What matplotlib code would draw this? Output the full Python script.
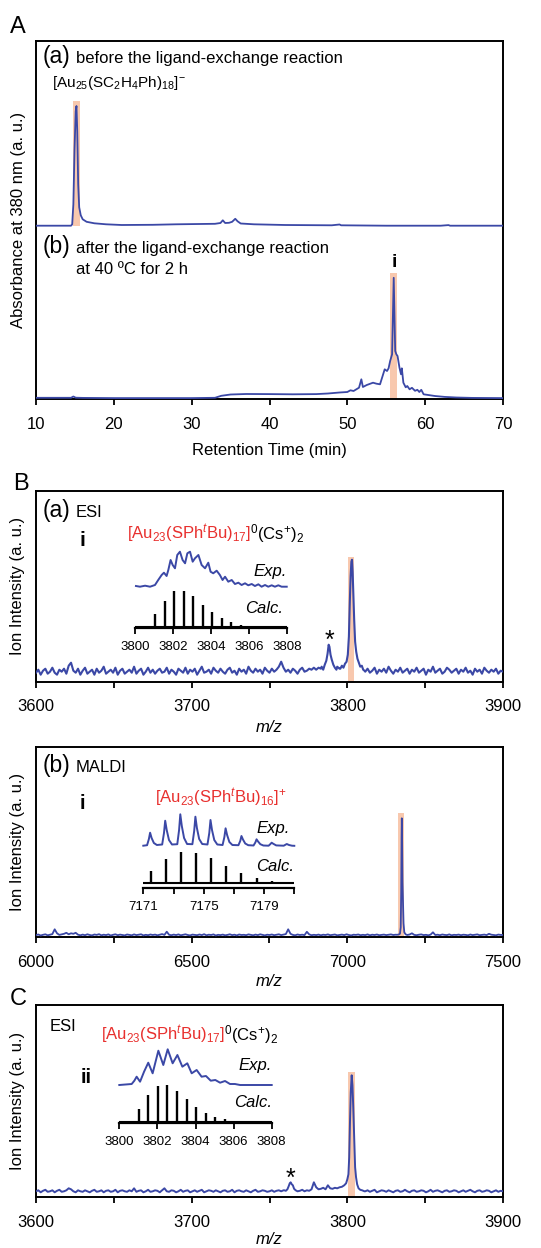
import numpy as np
import matplotlib
matplotlib.use("Agg")
import matplotlib.pyplot as plt
from matplotlib.patches import Rectangle

# ---------------- data ----------------
# Panel A: chromatograms (retention time in min, absorbance a.u.)
a_before_t = [10, 12, 14.5, 14.65, 14.8, 14.95, 15.1, 15.2, 15.3, 15.42, 15.55, 15.75, 16.0, 16.5, 17.5,
              19, 21, 25, 28, 31, 33, 33.7, 34.0, 34.3, 34.8, 35.2, 35.6, 35.9, 36.3, 38, 42, 48, 49,
              49.2, 55, 62, 63, 63.2, 70]
a_before_y = [173.6, 173.6, 173.6, 175, 195, 250, 288, 293.3, 268, 215, 192, 184, 180, 177.5, 176,
              175, 174.3, 174.5, 175, 175.3, 175.5, 176.3, 179, 176.3, 176.5, 177.5, 180.5, 178, 175.8,
              175, 174.3, 174, 174.8, 174, 173.6, 173.6, 174.2, 173.6, 173.6]
a_after_t = [10, 14.5, 14.8, 15.1, 16, 20, 25, 30, 33, 33.8, 35, 37, 40, 43, 46, 47.5, 49, 50, 50.4,
             50.8, 51.5, 51.8, 52.0, 52.5, 53.3, 53.75, 54.2, 54.6, 54.8, 55.1, 55.3, 55.5, 55.75,
             55.96, 56.15, 56.3, 56.45, 56.7, 56.9, 57.0, 57.2, 57.5, 57.7, 58.0, 58.3, 58.7, 59.0,
             59.25, 59.5, 59.8, 60.4, 61.25, 62.5, 64, 66, 70]
a_after_y = [1.5, 1.5, 2.8, 1.6, 1.4, 1.2, 1.2, 1.2, 1.5, 3.5, 4.8, 5.3, 5.2, 5.0, 5.2, 5.8, 6.8, 7.3,
             9, 8.3, 11.6, 20, 12.3, 14.3, 16.6, 15.6, 15, 25, 30, 28.3, 31, 38.3, 45, 121.5, 48.3,
             45, 43.3, 31.6, 25, 31, 16.6, 12, 13.3, 10, 11.5, 8.5, 9.5, 7.3, 9.5, 5, 4.3, 3.3, 2.4,
             1.8, 1.4, 1.2]
a_ticks = [10, 20, 30, 40, 50, 60, 70]
hl_a_before = [14.7, 15.65, 173.5, 298.3]
hl_a_after = [55.5, 56.4, 0, 126]

# Panel B(a): ESI, m/z 3600-3900 sampled every 1.5
ba_start, ba_step = 3600, 1.5
ba_noise = [9, 12, 7, 11, 13, 8, 10, 14, 9, 7, 12, 10, 13, 8, 16, 19, 11, 9, 13, 7,
            11, 14, 8, 10, 12, 7, 13, 9, 11, 15, 8, 10, 12, 9, 14, 7, 11, 13, 8, 10,
            12, 9, 15, 8, 11, 13, 7, 10, 14, 9, 12, 8, 11, 13, 9, 10, 14, 8, 12, 10,
            7, 13, 11, 9, 14, 8, 12, 10, 13, 7, 11, 15, 9, 10, 12, 8, 14, 11, 9, 13,
            10, 8, 12, 14, 9, 11, 7, 13, 10, 12, 8, 15, 11, 9, 13, 10, 12, 8, 14, 11,
            9, 13, 10, 12, 15, 20, 14, 10, 12, 9, 13, 11, 8, 12, 14, 10, 11, 13, 12, 14,
            12, 14, 13, 15, 16, 20, 30, 25, 17, 15, 13, 14, 15, 18, 40, 100, 60, 25, 17, 14,
            12, 10, 13, 9, 11, 14, 8, 12, 10, 13, 9, 15, 11, 8, 12, 10, 14, 9, 11, 13,
            8, 12, 10, 14, 9, 11, 13, 7, 12, 10, 15, 9, 11, 13, 8, 10, 14, 12, 9, 11,
            13, 8, 12, 10, 14, 9, 11, 7, 13, 10, 12, 8, 14, 11, 9, 12, 10, 13, 8, 11, 10]
ba_star_mz = [3783.5, 3784.5, 3785.5, 3786.5, 3787.3, 3788.0, 3788.5, 3789.2, 3790.0, 3791.0, 3792.0, 3793.0]
ba_star_y = [15, 12, 17, 21, 28, 37, 35, 27, 22, 17, 14, 12]
ba_peak_mz = [3795.5, 3796.5, 3797.5, 3798.5, 3799.5, 3800.3, 3801.0, 3801.6, 3802.1, 3802.6, 3803.0,
              3803.4, 3803.9, 3804.4, 3805.0, 3805.7, 3806.5, 3807.4, 3808.3, 3809.3, 3810.2, 3811.0]
ba_peak_y = [13, 16, 14, 18, 20, 27, 45, 80, 105, 120, 122, 110, 86, 62, 40, 30, 23, 19, 15, 16, 12, 11]
ba_ticks = [3600, 3650, 3700, 3750, 3800, 3850, 3900]
ba_labels = ['3600', '', '3700', '', '3800', '', '3900']
hl_ba = [3800.5, 3804.5, 0, 125]
ba_exp_mz = [3800.05, 3800.26, 3800.53, 3800.79, 3801.05, 3801.22, 3801.4, 3801.52, 3801.66, 3801.75,
             3801.87, 3801.98, 3802.1, 3802.22, 3802.36, 3802.5, 3802.63, 3802.75, 3802.89, 3803.03,
             3803.15, 3803.33, 3803.5, 3803.68, 3803.85, 3803.97, 3804.11, 3804.29, 3804.46, 3804.6,
             3804.73, 3804.9, 3805.08, 3805.25, 3805.43, 3805.6, 3805.78, 3805.95, 3806.13, 3806.3,
             3806.48, 3806.65, 3806.83, 3807.0, 3807.18, 3807.35, 3807.53, 3807.7, 3807.97]
ba_exp_y = [42, 41.3, 42.3, 41.3, 43, 48, 53, 55.3, 52, 58, 68, 63, 59.7, 73, 76.3, 68, 64.7, 74.7,
            76.3, 66.3, 69.7, 73, 63, 59.7, 65.3, 56.3, 54.7, 57.3, 53, 48, 51.3, 46.3, 48, 44, 45.3,
            43, 44.7, 42.7, 44, 42, 43.7, 41.3, 43, 41.3, 42.7, 41.3, 42.7, 41.3, 41.3]
ba_calc_mz = [3801.05, 3801.55, 3802.05, 3802.55, 3803.05, 3803.55, 3804.05, 3804.55, 3805.05,
              3805.55, 3806.05, 3806.55]
ba_calc_y = [12.7, 26, 35.3, 36, 31, 22, 14.3, 8.3, 4.3, 2, 1, 0.3]
ba_in_ticks = [3800, 3802, 3804, 3806, 3808]

# Panel B(b): MALDI, m/z 6000-7500 sampled every 7.5
bb_start, bb_step = 6000, 7.5
bb_noise = [2.2, 2.8, 1.8, 2.5, 3.0, 2.0, 2.6, 3.2, 8.0, 4.0, 2.4, 2.9, 3.5, 4.5, 3.0, 4.0, 3.5, 4.5, 2.6, 2.0,
            2.7, 2.1, 3.0, 2.3, 1.9, 2.8, 2.4, 3.1, 2.0, 2.6, 2.2, 2.9, 1.8, 2.5, 3.0, 2.1, 2.7, 2.3, 1.9, 2.8,
            2.4, 2.0, 2.9, 2.2, 2.6, 3.0, 1.9, 2.5, 2.1, 2.8, 2.3, 2.7, 2.0, 2.6, 3.2, 2.4, 5.6, 2.5, 2.1, 2.7,
            2.2, 2.9, 2.0, 2.5, 3.0, 2.3, 1.9, 2.7, 2.4, 2.1, 2.8, 2.2, 3.1, 2.0, 2.6, 2.3, 2.9, 1.8, 2.5, 2.2,
            2.7, 2.0, 2.4, 3.0, 2.2, 2.6, 1.9, 2.8, 2.3, 2.5, 2.1, 2.9, 2.4, 2.0, 2.7, 2.2, 3.0, 2.5, 1.9, 2.6,
            2.3, 2.8, 2.1, 2.5, 3.0, 2.2, 2.7, 3.2, 8.0, 3.5, 2.4, 2.0, 2.8, 2.3, 2.6, 2.2, 5.5, 2.9, 2.1, 2.5,
            2.2, 2.7, 2.0, 2.6, 2.3, 2.9, 2.1, 2.5, 2.8, 2.0, 2.4, 2.7, 2.2, 3.0, 2.3, 1.9, 2.6, 2.4, 2.8, 2.1,
            2.5, 2.2, 2.9, 2.0, 2.6, 2.3, 2.8, 2.1, 2.4, 2.7, 2.2, 2.5, 2.9, 2.3, 2.6, 2.5, 2.5, 2.5, 2.5, 2.3,
            2.8, 4.0, 2.4, 2.1, 2.6, 2.9, 2.2, 2.5, 2.0, 2.7, 5.0, 2.3, 2.6, 2.1, 2.8, 2.4, 2.2, 2.9, 2.0, 2.5,
            2.3, 2.7, 2.1, 2.6, 2.4, 2.0, 2.8, 2.2, 2.5, 2.9, 2.1, 2.4, 2.7, 2.2, 3.5, 2.6, 2.3, 2.0, 2.7, 2.4, 2.3]
bb_peak_mz = [7160, 7165, 7169, 7171.5, 7173, 7174.2, 7175.0, 7176.0, 7177.2, 7178.5, 7180.5, 7183, 7187, 7191]
bb_peak_y = [2.5, 2.8, 3.5, 10, 45, 100, 119, 95, 55, 38, 14, 5, 3, 2.5]
bb_ticks = [6000, 6250, 6500, 6750, 7000, 7250, 7500]
bb_labels = ['6000', '', '6500', '', '7000', '', '7500']
hl_bb = [7163, 7182, 0, 124.3]
bb_exp_mz = [7171.0, 7171.25, 7171.37, 7171.45, 7171.55, 7171.7, 7171.9,
             7172.25, 7172.37, 7172.45, 7172.55, 7172.7, 7172.9,
             7173.25, 7173.37, 7173.45, 7173.55, 7173.7, 7173.9,
             7174.25, 7174.37, 7174.45, 7174.55, 7174.7, 7174.9,
             7175.25, 7175.37, 7175.45, 7175.55, 7175.7, 7175.9,
             7176.25, 7176.37, 7176.45, 7176.55, 7176.7, 7176.9,
             7177.3, 7177.42, 7177.5, 7177.6, 7177.75, 7177.95,
             7178.3, 7178.42, 7178.5, 7178.6, 7178.75, 7178.95,
             7179.3, 7179.42, 7179.5, 7179.6, 7179.8,
             7180.3, 7180.5, 7180.65, 7180.85, 7181.0]
bb_exp_y = [42.3, 42.8, 49, 55.3, 50, 45, 43,
            43.5, 55, 67.3, 58, 48, 43.5,
            43.8, 58, 73.7, 62, 50, 44,
            43.8, 57, 71.3, 60, 49, 44,
            43.5, 55, 68, 58, 48, 43.5,
            43, 51, 59.7, 53, 46, 43,
            42.8, 47, 52, 48.5, 44.5, 42.8,
            42.5, 45.5, 48.7, 46.5, 43.8, 42.5,
            42.3, 44, 45.3, 44.3, 42.6,
            42.3, 44, 43, 42.3, 42.2]
bb_calc_mz = [7171.5, 7172.5, 7173.5, 7174.5, 7175.5, 7176.5, 7177.5, 7178.5, 7179.5, 7180.5]
bb_calc_y = [12.7, 24, 31, 30.7, 25, 17.7, 10.7, 5.7, 2.7, 1]
bb_in_ticks = [7171, 7173, 7175, 7177, 7179, 7181]
bb_in_labels = ['7171', '', '7175', '', '7179', '']

# Panel C: ESI of fraction ii, m/z 3600-3900 sampled every 1.5
c_start, c_step = 3600, 1.5
c_noise = [6, 7, 5, 6.5, 7.5, 5.5, 6, 7, 5, 6.5, 7.5, 5.5, 6, 7, 9, 8, 6, 5, 7, 6,
           5.5, 7, 6, 5, 6.5, 7.5, 5.5, 6, 7, 5, 6.5, 7, 5.5, 6, 7.5, 5, 6.5, 7, 6, 5.5,
           7, 6, 9, 5.5, 6.5, 7, 5, 6, 7.5, 5.5, 6, 7, 6.5, 5, 7, 9, 6, 5.5, 7, 6.5,
           5, 6, 7.5, 5.5, 6.5, 7, 5, 6, 7, 5.5, 6.5, 7.5, 5, 6, 7, 6.5, 5.5, 7, 6, 5,
           6.5, 7, 5.5, 6, 7.5, 5, 6.5, 7, 6, 5.5, 7, 6, 5, 6.5, 7.5, 5.5, 6, 7, 6.5, 5.5,
           6, 7, 5.5, 6.5, 7, 6, 7, 9, 14, 12, 8, 7, 6, 6.5, 7.5, 6, 7, 6.5, 8, 15,
           10, 8, 8.5, 9.5, 8, 12, 9, 8.5, 9.5, 9, 10, 11, 14, 22, 60, 120, 50, 15, 9, 7,
           6.5, 6, 7, 5.5, 6.5, 7.5, 5, 6, 7, 6.5, 5.5, 7, 6, 5, 6.5, 7, 5.5, 6, 7.5, 6,
           5, 6.5, 7, 5.5, 6, 7, 6.5, 5, 6, 7.5, 5.5, 6.5, 7, 6, 5, 6.5, 7, 5.5, 6, 7,
           6.5, 5, 6, 7, 5.5, 6.5, 7.5, 6, 5, 6.5, 7, 5.5, 6, 7, 6.5, 5, 6, 7, 5.5, 6.5, 6]
c_star_mz = [3759.5, 3760.5, 3761.5, 3762.3, 3763.0, 3763.6, 3764.3, 3765.0, 3765.8, 3766.8]
c_star_y = [7, 6.5, 8, 11, 14, 15, 13, 12, 8.5, 7]
c_peak_mz = [3795.0, 3796.5, 3798.0, 3799.2, 3800.0, 3800.7, 3801.2, 3801.7, 3802.2, 3802.8, 3803.3,
             3803.8, 3804.4, 3805.0, 3805.6, 3806.3, 3807.2, 3808.3, 3809.5, 3811.0]
c_peak_y = [10, 10.5, 12, 14, 18, 23, 40, 75, 105, 122, 112, 90, 60, 30, 20, 13, 9, 7.5, 7, 6]
hl_c = [3800.2, 3804.7, 0, 125.6]
c_exp_mz = [3800.0, 3800.65, 3800.79, 3800.91, 3801.09, 3801.3, 3801.52, 3801.75, 3802.05, 3802.31,
            3802.54, 3802.8, 3803.05, 3803.31, 3803.57, 3803.8, 3804.06, 3804.32, 3804.55, 3804.8,
            3805.04, 3805.29, 3805.55, 3805.81, 3806.07, 3806.34, 3808.0]
c_exp_y = [38.3, 39.3, 42.6, 46.6, 41.6, 51.6, 60.6, 50, 72.6, 58.3, 74, 60, 68.3, 56.6, 60, 50,
           53.3, 46.6, 47.3, 42.6, 43.3, 40.6, 42.3, 39.3, 39.3, 38.3, 38.3]
c_calc_mz = [3801.03, 3801.53, 3802.03, 3802.53, 3803.03, 3803.53, 3804.03, 3804.53, 3805.03,
             3805.53, 3806.03, 3806.53]
c_calc_y = [13.3, 26.7, 36, 36.7, 31, 22.7, 15, 9.3, 5, 2.7, 1.3, 0.7]

# ---------------- style ----------------
plt.rcParams['font.family'] = ['Liberation Sans', 'DejaVu Sans']
plt.rcParams['mathtext.fontset'] = 'custom'
plt.rcParams['mathtext.rm'] = 'Liberation Sans'
plt.rcParams['mathtext.it'] = 'Liberation Sans:italic'
plt.rcParams['mathtext.bf'] = 'Liberation Sans:bold'

BLUE = '#3b48a6'
PEACH = '#f8c8ae'
RED = '#e8302e'

W, H = 541, 1248
fig = plt.figure(figsize=(W / 100, H / 100), dpi=100)


def add_ax(l, t, r, b):
    return fig.add_axes([l / W, 1 - b / H, (r - l) / W, (b - t) / H])


def ftext(x, y, s, **kw):
    kw.setdefault('va', 'baseline')
    return fig.text(x / W, 1 - y / H, s, **kw)


def style_main(ax, xlim, ylim, ticks, labels):
    ax.set_xlim(xlim)
    ax.set_ylim(ylim)
    for s in ax.spines.values():
        s.set_linewidth(1.4)
    ax.set_yticks([])
    ax.set_xticks(ticks)
    ax.set_xticklabels(labels, fontsize=12)
    ax.tick_params(axis='x', direction='out', length=4, width=1.3, pad=8.5)


def highlight(ax, hl):
    ax.add_patch(Rectangle((hl[0], hl[2]), hl[1] - hl[0], hl[3] - hl[2],
                           facecolor=PEACH, edgecolor='none', zorder=1))


def assemble(x0, step, noise, segments):
    xs = x0 + step * np.arange(len(noise))
    ys = np.asarray(noise, float)
    keep = np.ones(len(xs), bool)
    for sx, sy in segments:
        keep &= ~((xs >= sx[0]) & (xs <= sx[-1]))
    X = np.concatenate([xs[keep]] + [np.asarray(s[0], float) for s in segments])
    Y = np.concatenate([ys[keep]] + [np.asarray(s[1], float) for s in segments])
    o = np.argsort(X)
    return X[o], Y[o]


def inset(l, t, r, b, xlim, ticks, labels, exp_x, exp_y, calc_x, calc_y, calc_base):
    ax = add_ax(l, t, r, b)
    ax.set_xlim(xlim)
    ax.set_ylim(0, b - t)
    for k in ['left', 'right', 'top']:
        ax.spines[k].set_visible(False)
    ax.spines['bottom'].set_linewidth(1.6)
    ax.patch.set_visible(False)
    ax.set_yticks([])
    ax.set_xticks(ticks)
    ax.set_xticklabels(labels, fontsize=9.5)
    ax.tick_params(axis='x', direction='out', length=4, width=1.3, pad=5.5)
    ax.plot(exp_x, exp_y, color=BLUE, lw=1.4, clip_on=False)
    ax.hlines(calc_base, xlim[0], xlim[1], color='k', lw=1.5, clip_on=False)
    ax.vlines(calc_x, calc_base, calc_base + np.asarray(calc_y), color='k', lw=1.7, clip_on=False)
    return ax


# ---------------- Panel A ----------------
axA = add_ax(36, 41, 503, 399.3)
style_main(axA, (10, 70), (0, 358.3), a_ticks, [str(v) for v in a_ticks])
highlight(axA, hl_a_before)
highlight(axA, hl_a_after)
axA.plot(a_before_t, a_before_y, color=BLUE, lw=1.3, zorder=3)
axA.plot(a_after_t, a_after_y, color=BLUE, lw=1.3, zorder=3)

ftext(10, 33.3, 'A', fontsize=17)
ftext(43, 63.5, '(a)', fontsize=16.5)
ftext(76, 63.5, 'before the ligand-exchange reaction', fontsize=12)
ftext(52, 87.5, r'[Au$_{25}$(SC$_2$H$_4$Ph)$_{18}$]$^{-}$', fontsize=11)
ftext(43, 253.3, '(b)', fontsize=16.5)
ftext(76, 253.3, 'after the ligand-exchange reaction', fontsize=12)
ftext(76, 274, 'at 40 \u00baC for 2 h', fontsize=12)
ftext(394, 266.7, 'i', fontsize=14, fontweight='bold', ha='center')
ftext(18.5, 220, 'Absorbance at 380 nm (a. u.)', fontsize=12, rotation=90, ha='center', va='center')
ftext(269.5, 450, 'Retention Time (min)', fontsize=12, ha='center', va='center')

# ---------------- Panel B(a) ----------------
axBa = add_ax(36, 491, 503, 681.7)
style_main(axBa, (3600, 3900), (0, 190.7), ba_ticks, ba_labels)
highlight(axBa, hl_ba)
x, y = assemble(ba_start, ba_step, ba_noise, [(ba_star_mz, ba_star_y), (ba_peak_mz, ba_peak_y)])
axBa.plot(x, y, color=BLUE, lw=1.5, zorder=3)
inset(135, 548, 287.3, 628, (3800, 3808), ba_in_ticks, [str(v) for v in ba_in_ticks],
      ba_exp_mz, ba_exp_y, ba_calc_mz, ba_calc_y, 1.5)

ftext(13, 490, 'B', fontsize=17)
ftext(43, 516.7, '(a)', fontsize=16.5)
ftext(76, 516.7, 'ESI', fontsize=12)
ftext(82, 546, 'i', fontsize=15, fontweight='bold', ha='center')
red_ba = ftext(127, 539, r'[Au$_{23}$(SPh$^{\mathit{t}}$Bu)$_{17}$]', fontsize=12, color=RED)
ftext(287, 576, 'Exp.', fontsize=12, style='italic', ha='right')
ftext(283, 613.3, 'Calc.', fontsize=12, style='italic', ha='right')
ftext(329.3, 648, '*', fontsize=18, ha='center')
ftext(18, 586, 'Ion Intensity (a. u.)', fontsize=12, rotation=90, ha='center', va='center')
ftext(269.5, 728, 'm/z', fontsize=12, style='italic', ha='center', va='center')

# ---------------- Panel B(b) ----------------
axBb = add_ax(36, 746.7, 503, 937.3)
style_main(axBb, (6000, 7500), (0, 190.6), bb_ticks, bb_labels)
highlight(axBb, hl_bb)
x, y = assemble(bb_start, bb_step, bb_noise, [(bb_peak_mz, bb_peak_y)])
axBb.plot(x, y, color=BLUE, lw=1.3, zorder=3)
inset(143.3, 808, 294.3, 888, (7171, 7181), bb_in_ticks, bb_in_labels,
      bb_exp_mz, bb_exp_y, bb_calc_mz, bb_calc_y, 4.7)

ftext(43, 771.7, '(b)', fontsize=16.5)
ftext(76, 771.7, 'MALDI', fontsize=12)
ftext(82, 809.3, 'i', fontsize=14.5, fontweight='bold', ha='center')
ftext(155, 803.3, r'[Au$_{23}$(SPh$^{\mathit{t}}$Bu)$_{16}$]$^{+}$', fontsize=12, color=RED)
ftext(290, 833.3, 'Exp.', fontsize=12, style='italic', ha='right')
ftext(294, 870.7, 'Calc.', fontsize=12, style='italic', ha='right')
ftext(18, 842, 'Ion Intensity (a. u.)', fontsize=12, rotation=90, ha='center', va='center')
ftext(269.5, 981, 'm/z', fontsize=12, style='italic', ha='center', va='center')

# ---------------- Panel C ----------------
axC = add_ax(36, 1005, 503, 1197.3)
style_main(axC, (3600, 3900), (0, 192.3), ba_ticks, ba_labels)
highlight(axC, hl_c)
x, y = assemble(c_start, c_step, c_noise, [(c_star_mz, c_star_y), (c_peak_mz, c_peak_y)])
axC.plot(x, y, color=BLUE, lw=1.4, zorder=3)
inset(119.3, 1043.3, 271.7, 1123.3, (3800, 3808), ba_in_ticks, [str(v) for v in ba_in_ticks],
      c_exp_mz, c_exp_y, c_calc_mz, c_calc_y, 1.5)

ftext(10, 1005, 'C', fontsize=17)
ftext(50, 1030.7, 'ESI', fontsize=12)
red_c = ftext(101, 1040, r'[Au$_{23}$(SPh$^{\mathit{t}}$Bu)$_{17}$]', fontsize=12, color=RED)
ftext(86.5, 1082.7, 'ii', fontsize=14.5, fontweight='bold', ha='center')
ftext(272, 1070, 'Exp.', fontsize=12, style='italic', ha='right')
ftext(272, 1106.7, 'Calc.', fontsize=12, style='italic', ha='right')
ftext(290.6, 1186, '*', fontsize=18, ha='center')
ftext(18, 1101, 'Ion Intensity (a. u.)', fontsize=12, rotation=90, ha='center', va='center')
ftext(269.5, 1240, 'm/z', fontsize=12, style='italic', ha='center', va='center')

# black continuation of the red formulas
fig.canvas.draw()
for t, ybase in [(red_ba, 539), (red_c, 1040)]:
    bb = t.get_window_extent()
    ftext(bb.x1 - 1.5, ybase, r'$^{0}$(Cs$^{+}$)$_{2}$', fontsize=12, color='black')

fig.savefig('out.png', dpi=100)
